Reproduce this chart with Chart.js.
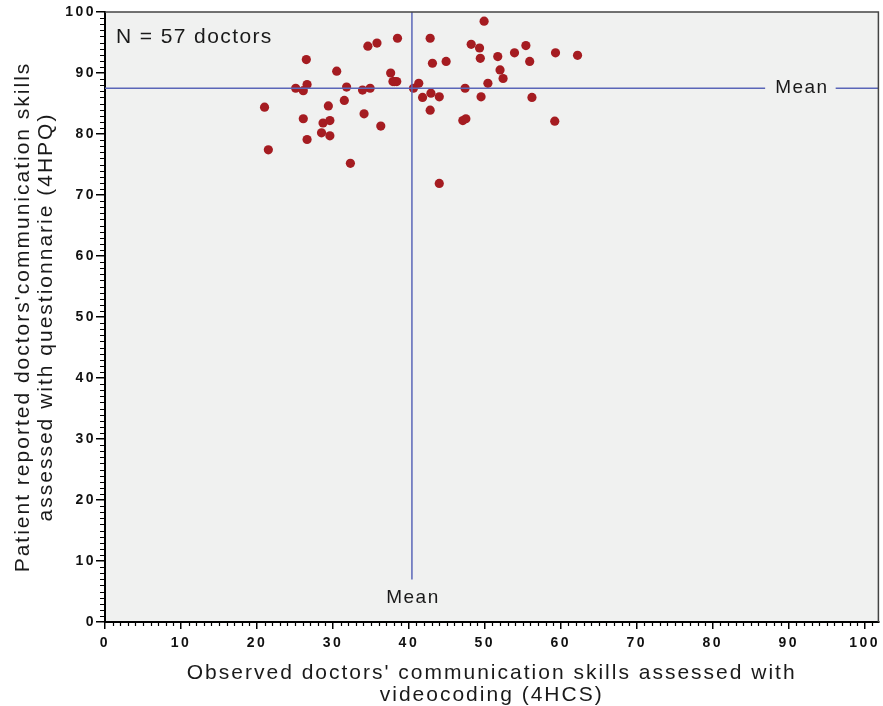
<!DOCTYPE html>
<html>
<head>
<meta charset="utf-8">
<title>4HCS vs 4HPQ</title>
<script src="https://cdn.jsdelivr.net/npm/chart.js@4.4.0/dist/chart.umd.min.js"></script>
<style>
  html, body { margin: 0; padding: 0; background: #fff; }
  #wrap { width: 883px; height: 706px; }
</style>
</head>
<body>
<div id="wrap"><canvas id="scatter" width="883" height="706"></canvas></div>
<script>
// ---- données ----
const xScores = [38.5, 42.8, 34.6, 35.8, 26.5, 43.1, 44.9, 30.5, 37.6, 37.9,
                 38.4, 41.3, 25.1, 26.6, 26.1, 31.8, 33.9, 34.9, 40.6, 41.8,
                 42.9, 44.0, 21.0, 31.5, 29.4, 42.8, 26.1, 28.7, 29.6, 34.1,
                 36.3, 28.5, 29.6, 26.6, 21.5, 32.3, 44.0, 49.9, 48.2, 49.3,
                 49.4, 51.7, 53.9, 55.4, 55.9, 59.3, 62.2, 52.0, 52.4, 50.4,
                 47.4, 49.5, 56.2, 47.1, 47.5, 59.2, 38.1];
const yScores = [95.7, 95.7, 94.4, 94.9, 92.2, 91.6, 91.9, 90.3, 90.0, 88.6,
                 88.6, 88.3, 87.5, 88.1, 87.1, 87.7, 87.2, 87.5, 87.5, 86.0,
                 86.7, 86.1, 84.4, 85.5, 84.6, 83.9, 82.5, 81.8, 82.2, 83.3,
                 81.3, 80.2, 79.7, 79.1, 77.4, 75.2, 71.9, 98.5, 94.7, 94.1,
                 92.4, 92.7, 93.3, 94.5, 91.9, 93.3, 92.9, 90.5, 89.1, 88.3,
                 87.5, 86.1, 86.0, 82.2, 82.5, 82.1, 88.6];
const meanX = 40.4;
const meanY = 87.5;
const xTickValues = [0, 10, 20, 30, 40, 50, 60, 70, 80, 90, 100];
const yTickValues = [0, 10, 20, 30, 40, 50, 60, 70, 80, 90, 100];
const xTitle = ["Observed doctors' communication skills assessed with", 'videocoding (4HCS)'];
const yTitle = ["Patient reported doctors'communication skills", 'assessed with questionnarie (4HPQ)'];
const countLabel = 'N = 57 doctors';
const meanLabel = 'Mean';

const TEXT = '#1a1a1a';
const MEAN_COLOR = '#5a66b8';
const FONT = "'Liberation Sans', Arial, sans-serif";

// garde seulement les graduations principales
function keepTicks(values) {
    return function(scale) {
        scale.ticks = values.map(v => ({ value: v }));
    };
}

// petites graduations, fond, cadre, lignes de moyenne
const decorPlugin = {
    id: 'decor',
    beforeDraw(chart) {
        const { ctx, chartArea: a } = chart;
        ctx.save();
        ctx.fillStyle = '#f0f1f0';
        ctx.fillRect(a.left, a.top, a.right - a.left, a.bottom - a.top);
        ctx.restore();
        // titres des axes espacés
        ctx.letterSpacing = '2px';
    },
    afterDatasetsDraw(chart) {
        const { ctx, chartArea: a, scales: { x, y } } = chart;
        const mx = x.getPixelForValue(meanX);
        const my = y.getPixelForValue(meanY);

        ctx.save();
        ctx.font = '19px ' + FONT;
        ctx.letterSpacing = '1.5px';
        const w = ctx.measureText(meanLabel).width;

        ctx.strokeStyle = MEAN_COLOR;
        ctx.lineWidth = 1.5;

        // ligne horizontale avec trou pour le texte
        const hx = x.getPixelForValue(91.6);
        ctx.beginPath();
        ctx.moveTo(a.left, my);
        ctx.lineTo(hx - w / 2 - 9, my);
        ctx.moveTo(hx + w / 2 + 8, my);
        ctx.lineTo(a.right, my);
        ctx.stroke();

        // ligne verticale
        const vy = y.getPixelForValue(4.0);
        ctx.beginPath();
        ctx.moveTo(mx, a.top);
        ctx.lineTo(mx, vy - 18);
        ctx.stroke();

        ctx.fillStyle = TEXT;
        ctx.textAlign = 'center';
        ctx.textBaseline = 'middle';
        ctx.fillText(meanLabel, hx + 1, my);
        ctx.fillText(meanLabel, mx + 1, vy);

        ctx.textAlign = 'left';
        ctx.font = '21px ' + FONT;
        ctx.letterSpacing = '1.4px';
        ctx.fillText(countLabel, a.left + 11, a.top + 25);
        ctx.restore();

        // les étiquettes des axes sont très espacées
        ctx.letterSpacing = '2.5px';
    },
    afterDraw(chart) {
        const { ctx, chartArea: a, scales: { x, y } } = chart;
        ctx.save();
        ctx.strokeStyle = '#000';
        ctx.lineWidth = 1.2;
        ctx.beginPath();
        for (let i = 1; i <= 101; i++) {
            if (i % 10 === 0) continue;
            const px = Math.round(x.getPixelForValue(i)) + 0.5;
            ctx.moveTo(px, a.bottom);
            ctx.lineTo(px, a.bottom + 4);
        }
        for (let i = 1; i < 100; i++) {
            if (i % 10 === 0) continue;
            const py = Math.round(y.getPixelForValue(i)) + 0.5;
            ctx.moveTo(a.left, py);
            ctx.lineTo(a.left - 5, py);
        }
        ctx.stroke();

        // cadre haut et droite
        ctx.strokeStyle = '#444';
        ctx.lineWidth = 1.5;
        ctx.beginPath();
        ctx.moveTo(a.left, a.top);
        ctx.lineTo(a.right, a.top);
        ctx.lineTo(a.right, a.bottom);
        ctx.stroke();
        ctx.restore();
        ctx.letterSpacing = '0px';
    }
};

const points = xScores.map((v, i) => ({ x: v, y: yScores[i] }));

new Chart(document.getElementById('scatter'), {
    type: 'scatter',
    data: {
        datasets: [{
            data: points,
            backgroundColor: '#a51c21',
            borderWidth: 0,
            pointRadius: 4.6,
            pointHoverRadius: 4.6
        }]
    },
    options: {
        responsive: false,
        animation: false,
        devicePixelRatio: 1,
        layout: { padding: { top: 12, right: 3, left: 0, bottom: 0 } },
        plugins: {
            legend: { display: false },
            tooltip: { enabled: false }
        },
        scales: {
            x: {
                type: 'linear',
                min: 0,
                max: 101.8,
                afterBuildTicks: keepTicks(xTickValues),
                afterFit(scale) { scale.height = 84; },
                grid: { drawOnChartArea: false, drawTicks: true, tickLength: 7, color: '#000', lineWidth: 1.5 },
                border: { display: true, color: '#000', width: 2 },
                ticks: {
                    z: 1,
                    color: '#111',
                    padding: 6,
                    maxRotation: 0,
                    autoSkip: false,
                    font: { family: FONT, size: 14, weight: 'bold' }
                },
                title: {
                    display: true,
                    text: xTitle,
                    color: TEXT,
                    padding: { top: 0, bottom: 0 },
                    font: { family: FONT, size: 21, lineHeight: 1.05 }
                }
            },
            y: {
                type: 'linear',
                min: 0,
                max: 100,
                afterBuildTicks: keepTicks(yTickValues),
                afterFit(scale) { scale.width = 105; },
                grid: { drawOnChartArea: false, drawTicks: true, tickLength: 9, color: '#000', lineWidth: 1.5 },
                border: { display: true, color: '#000', width: 2 },
                ticks: {
                    z: 1,
                    color: '#111',
                    padding: 0,
                    autoSkip: false,
                    font: { family: FONT, size: 14, weight: 'bold' }
                },
                title: {
                    display: true,
                    text: yTitle,
                    color: TEXT,
                    padding: { top: 12, bottom: 0 },
                    font: { family: FONT, size: 21, lineHeight: 1.1 }
                }
            }
        }
    },
    plugins: [decorPlugin]
});
</script>
</body>
</html>
